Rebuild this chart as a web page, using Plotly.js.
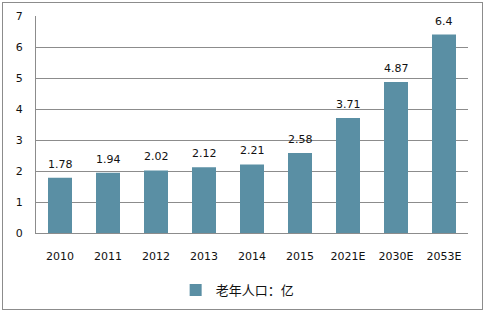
<!DOCTYPE html>
<html>
<head>
<meta charset="utf-8">
<script src="https://cdn.plot.ly/plotly-3.0.1.min.js"></script>
<style>
html,body{margin:0;padding:0;background:#fff;}
#wrap{position:relative;width:485px;height:312px;}
#chart{position:absolute;left:0;top:0;width:485px;height:312px;}
#frame{position:absolute;left:2px;top:2px;width:479px;height:306px;border:1px solid #8c8c8c;pointer-events:none;}
</style>
</head>
<body>
<div id="wrap"><div id="chart"></div><div id="frame"></div></div>
<script>
const categories = ["2010","2011","2012","2013","2014","2015","2021E","2030E","2053E"];
const values = [1.78, 1.94, 2.02, 2.12, 2.21, 2.58, 3.71, 4.87, 6.4];
const seriesName = "老年人口：亿";
const yTicks = [0,1,2,3,4,5,6,7];

const trace = {
  type: "bar",
  x: categories,
  y: values,
  name: seriesName,
  marker: {color: "#5a8fa4"},
  hoverinfo: "x+y"
};

const annotations = categories.map((c, i) => ({
  x: i, y: values[i], xref: "x", yref: "y",
  text: String(values[i]), showarrow: false,
  yanchor: "bottom", yshift: 5,
  font: {family: "DejaVu Sans, sans-serif", size: 11, color: "#111"}
}));

const layout = {
  width: 485, height: 312,
  margin: {l: 36, r: 17, t: 16, b: 79},
  paper_bgcolor: "#fff", plot_bgcolor: "#fff",
  bargap: 0.5,
  showlegend: true,
  legend: {orientation: "h", xref: "container", yref: "container",
           x: 0.49, xanchor: "center", y: 0.07, yanchor: "middle",
           itemwidth: 30,
           font: {family: "Noto Sans CJK SC, sans-serif", size: 13, color: "#111"}},
  xaxis: {type: "category", range: [-0.5, categories.length - 0.5], autorange: false, automargin: false,
          showgrid: false, showline: true, linecolor: "#8c8c8c", linewidth: 1,
          ticks: "", tickfont: {family: "DejaVu Sans, sans-serif", size: 11, color: "#111"},
          ticklabelstandoff: 13},
  yaxis: {range: [0, 7], autorange: false, automargin: false, tickvals: yTicks, showgrid: true, gridcolor: "#8c8c8c", gridwidth: 1,
          showline: true, linecolor: "#8c8c8c", zeroline: false, ticks: "",
          tickfont: {family: "DejaVu Sans, sans-serif", size: 11, color: "#111"},
          ticklabelstandoff: 10},
  annotations: annotations
};

Plotly.newPlot("chart", [trace], layout, {displayModeBar: false});
</script>
</body>
</html>
